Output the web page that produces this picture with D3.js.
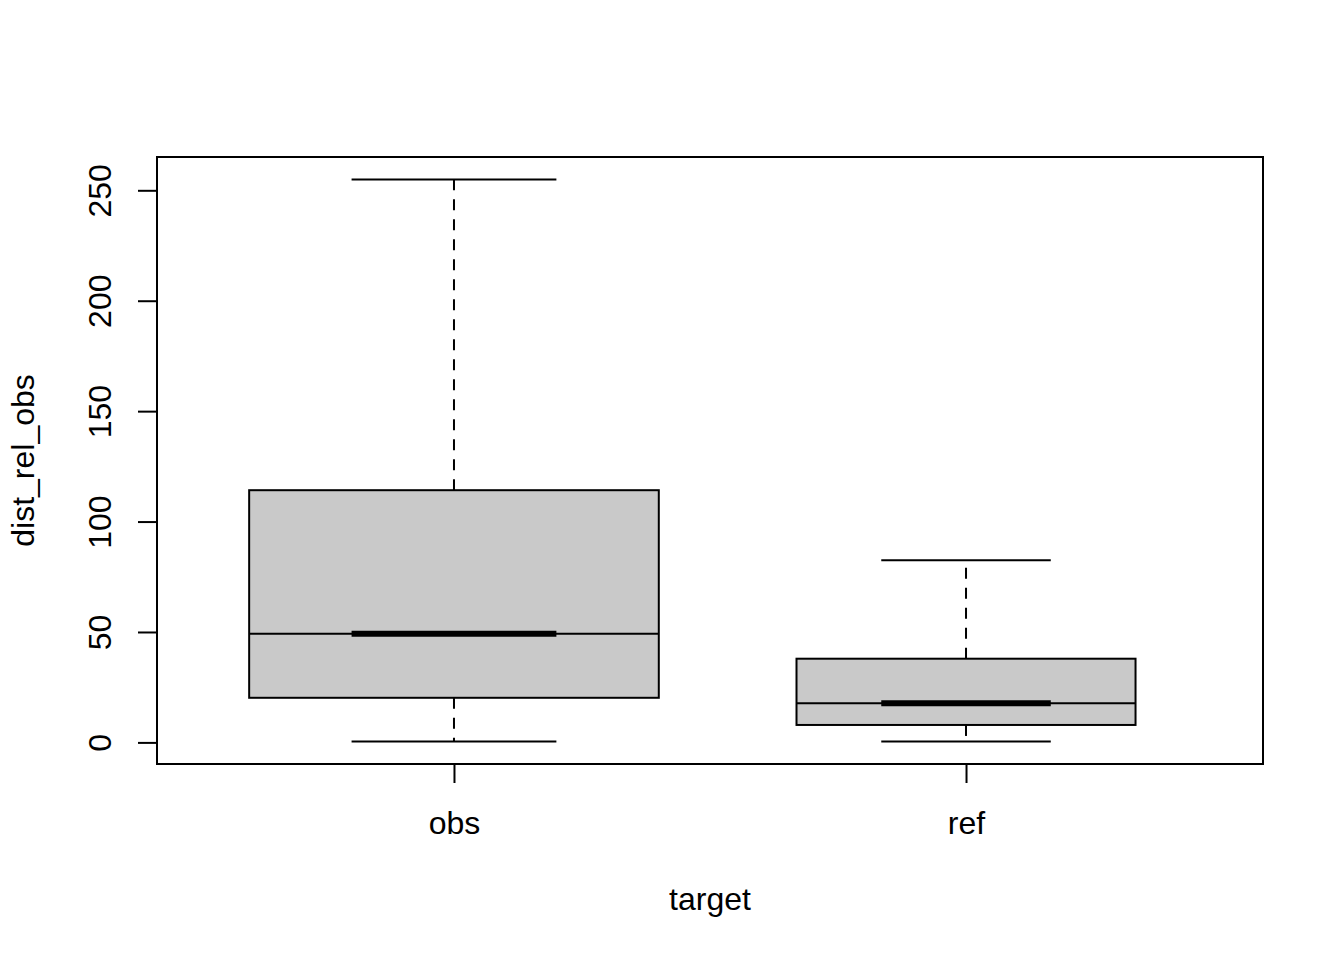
<!DOCTYPE html>
<html>
<head>
<meta charset="utf-8">
<script src="https://cdn.jsdelivr.net/npm/d3@7"></script>
<style>
  html, body { margin: 0; padding: 0; background: #fff; }
  svg { display: block; }
  text { font-family: "Liberation Sans", Arial, Helvetica, sans-serif; fill: #000; }
</style>
</head>
<body>
<svg id="chart" width="1344" height="960"></svg>
<script>
// ---- data ----
const categories = ["obs", "ref"];
const whiskerLow  = [0.4, 0.4];
const q1          = [20.2, 7.9];
const median      = [49.2, 17.7];
const q3          = [114.2, 37.9];
const whiskerHigh = [254.9, 82.5];
const counts      = [200, 137];          // group sizes (varwidth)
const yTicks      = [0, 50, 100, 150, 200, 250];
const xLabel = "target";
const yLabel = "dist_rel_obs";

// ---- layout ----
const W = 1344, H = 960;
const plot = { left: 157, right: 1263, top: 157, bottom: 764 };
const fontSize = 32;

const svg = d3.select("#chart");

// x: R style, xlim c(0.5, n+0.5) extended 4%
const n = categories.length;
const xr = [0.5, n + 0.5];
const xpad = (xr[1] - xr[0]) * 0.04;
const x = d3.scaleLinear().domain([xr[0] - xpad, xr[1] + xpad]).range([plot.left, plot.right]);

// y: data range extended 4%
const ymin = d3.min(whiskerLow), ymax = d3.max(whiskerHigh);
const ypad = (ymax - ymin) * 0.04;
const y = d3.scaleLinear().domain([ymin - ypad, ymax + ypad]).range([plot.bottom, plot.top]);

const maxSqrt = d3.max(counts, c => Math.sqrt(c));
const boxes = categories.map((c, i) => ({
  cat: c, i: i + 1,
  lo: whiskerLow[i], q1: q1[i], med: median[i], q3: q3[i], hi: whiskerHigh[i],
  w: 0.8 * Math.sqrt(counts[i]) / maxSqrt
}));

const lw = 2;
const g = svg.append("g");

boxes.forEach(b => {
  const cx = x(b.i);
  const half = (x(b.i + b.w / 2) - x(b.i));
  const staple = half / 2;
  // whiskers (dashed)
  g.append("line").attr("x1", cx).attr("x2", cx).attr("y1", y(b.q3)).attr("y2", y(b.hi))
    .attr("stroke", "#000").attr("stroke-width", lw).attr("stroke-dasharray", "11,9");
  g.append("line").attr("x1", cx).attr("x2", cx).attr("y1", y(b.q1)).attr("y2", y(b.lo))
    .attr("stroke", "#000").attr("stroke-width", lw).attr("stroke-dasharray", "11,9");
  // staples
  [b.hi, b.lo].forEach(v => {
    g.append("line").attr("x1", cx - staple).attr("x2", cx + staple).attr("y1", y(v)).attr("y2", y(v))
      .attr("stroke", "#000").attr("stroke-width", lw);
  });
  // box
  g.append("rect").attr("x", cx - half).attr("y", y(b.q3)).attr("width", 2 * half)
    .attr("height", y(b.q1) - y(b.q3)).attr("fill", "#c9c9c9").attr("stroke", "#000").attr("stroke-width", lw);
  // median thin across box
  g.append("line").attr("x1", cx - half).attr("x2", cx + half).attr("y1", y(b.med)).attr("y2", y(b.med))
    .attr("stroke", "#000").attr("stroke-width", lw);
  // thick median segment
  g.append("line").attr("x1", cx - staple).attr("x2", cx + staple).attr("y1", y(b.med)).attr("y2", y(b.med))
    .attr("stroke", "#000").attr("stroke-width", 6);
});

// frame
svg.append("rect").attr("x", plot.left).attr("y", plot.top)
  .attr("width", plot.right - plot.left).attr("height", plot.bottom - plot.top)
  .attr("fill", "none").attr("stroke", "#000").attr("stroke-width", lw);

// y axis
const yAxis = svg.append("g").attr("transform", `translate(${plot.left},0)`)
  .call(d3.axisLeft(y).tickValues(yTicks).tickSize(19).tickFormat(d3.format("d")));
yAxis.select(".domain").remove();
yAxis.selectAll(".tick line").attr("stroke", "#000").attr("stroke-width", lw);
yAxis.selectAll(".tick text")
  .attr("font-size", fontSize).attr("font-family", null)
  .attr("x", null).attr("dy", null)
  .attr("text-anchor", "middle")
  .attr("transform", "translate(-46.5,0) rotate(-90)");

// x axis
const xAxis = svg.append("g").attr("transform", `translate(0,${plot.bottom})`)
  .call(d3.axisBottom(x).tickValues(boxes.map(b => b.i)).tickSize(19).tickFormat(v => categories[v - 1]));
xAxis.select(".domain").remove();
xAxis.selectAll(".tick line").attr("stroke", "#000").attr("stroke-width", lw);
xAxis.selectAll(".tick text")
  .attr("font-size", fontSize).attr("font-family", null)
  .attr("y", 70).attr("dy", null);

// axis titles
svg.append("text").attr("x", (plot.left + plot.right) / 2).attr("y", 910)
  .attr("text-anchor", "middle").attr("font-size", fontSize).text(xLabel);
svg.append("text")
  .attr("transform", `translate(34,${(plot.top + plot.bottom) / 2}) rotate(-90)`)
  .attr("text-anchor", "middle").attr("font-size", fontSize).text(yLabel);
</script>
</body>
</html>
